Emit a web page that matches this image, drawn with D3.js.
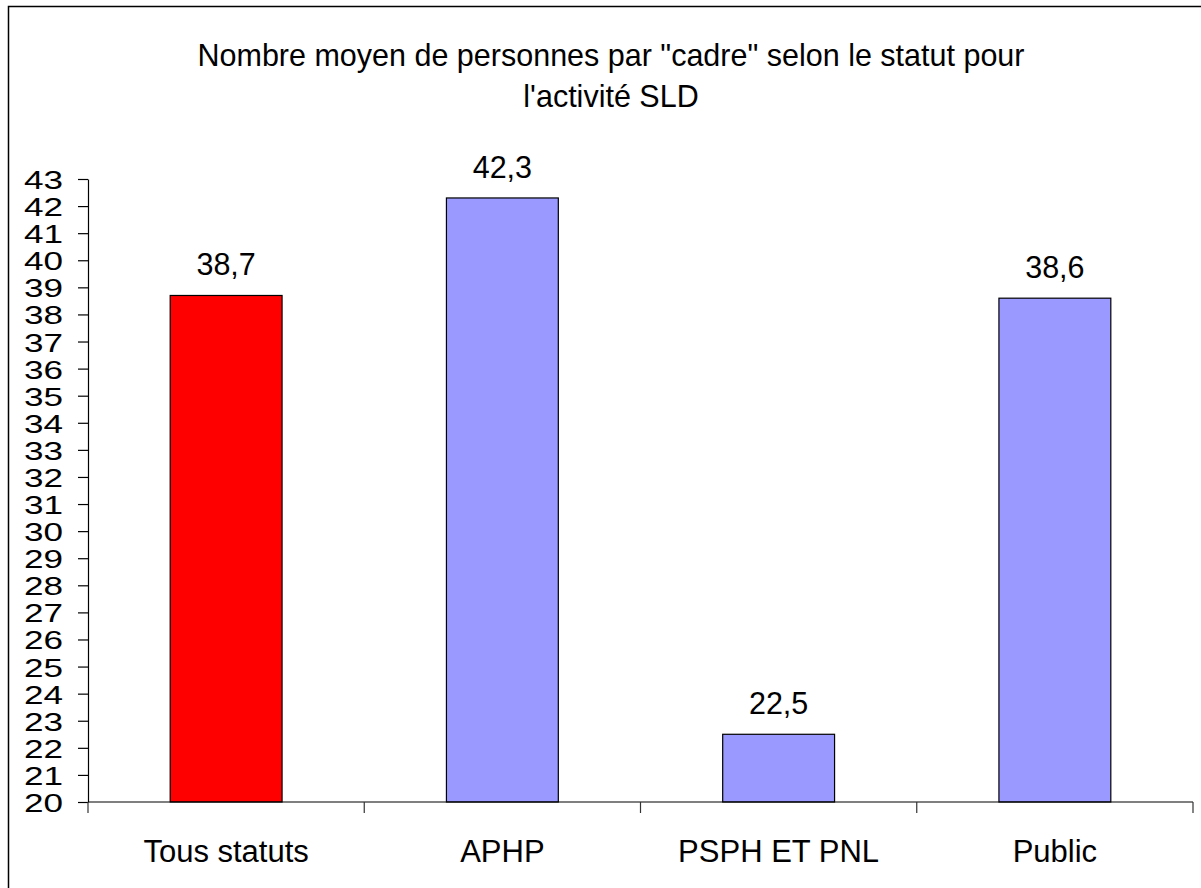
<!DOCTYPE html>
<html>
<head>
<meta charset="utf-8">
<script src="https://cdn.jsdelivr.net/npm/d3@7"></script>
<style>
  body { margin: 0; background: #fff; }
  text { font-family: "Liberation Sans", Arial, sans-serif; fill: #000; }
</style>
</head>
<body>
<div id="graphic"></div>
<script>
// data
const categories = ["Tous statuts", "APHP", "PSPH ET PNL", "Public"];
const values = [38.7, 42.3, 22.5, 38.6];
const valueLabels = ["38,7", "42,3", "22,5", "38,6"];
const barColors = ["#ff0000", "#9999ff", "#9999ff", "#9999ff"];
const yTicks = d3.range(20, 44);
const titleLines = ["Nombre moyen de personnes par \"cadre\" selon le statut pour", "l'activité SLD"];

const width = 1201, height = 888;
const margin = { left: 88, right: 8, top: 179, bottom: 86 };

const svg = d3.select("#graphic").append("svg")
  .attr("width", width)
  .attr("height", height);

// outer frame
svg.append("rect")
  .attr("x", 8.5).attr("y", 6.5)
  .attr("width", 1200).attr("height", 890)
  .attr("fill", "none").attr("stroke", "#000").attr("stroke-width", 1.5);

// title
svg.append("g").selectAll("text")
  .data(titleLines)
  .enter().append("text")
  .attr("x", 611)
  .attr("y", (d, i) => 66 + i * 41)
  .attr("text-anchor", "middle")
  .style("font-size", "30.5px")
  .text(d => d);

var x = d3.scaleBand()
  .domain(categories)
  .range([margin.left, 1193])
  .padding(0);

var y = d3.scaleLinear()
  .domain([20, 43])
  .range([802, margin.top]);

const barW = x.bandwidth() * 0.405;
const rows = categories.map((c, i) => ({ name: c, value: values[i], label: valueLabels[i], color: barColors[i] }));

// bars
svg.selectAll(".bar")
  .data(rows)
  .enter().append("rect")
  .attr("class", "bar")
  .attr("x", d => x(d.name) + (x.bandwidth() - barW) / 2)
  .attr("y", d => y(d.value))
  .attr("width", barW)
  .attr("height", d => y(20) - y(d.value))
  .attr("fill", d => d.color)
  .attr("stroke", "#000")
  .attr("stroke-width", 1.2);

// value labels
svg.selectAll(".vlabel")
  .data(rows)
  .enter().append("text")
  .attr("class", "vlabel")
  .attr("x", d => x(d.name) + x.bandwidth() / 2)
  .attr("y", d => y(d.value) - 20)
  .attr("text-anchor", "middle")
  .style("font-size", "30.5px")
  .text(d => d.label);

// y axis
var yAxis = svg.append("g")
  .attr("transform", "translate(" + margin.left + ",0)")
  .call(d3.axisLeft(y).tickValues(yTicks).tickSize(10).tickSizeOuter(0).tickFormat(d3.format("d")));
yAxis.select(".domain").attr("stroke", "#000").attr("stroke-width", 1.2);
yAxis.selectAll(".tick line").attr("stroke", "#000").attr("stroke-width", 1.2);
yAxis.selectAll(".tick text")
  .attr("x", null).attr("dy", null)
  .attr("transform", "translate(-25,9.5) scale(1.35,1)")
  .style("font-size", "26px")
  .attr("font-family", null);

// x axis: ticks on band boundaries
svg.append("line")
  .attr("x1", margin.left).attr("x2", 1193)
  .attr("y1", y(20)).attr("y2", y(20))
  .attr("stroke", "#000").attr("stroke-width", 1.2);

svg.selectAll(".xtick")
  .data(categories.concat(["end"]))
  .enter().append("line")
  .attr("class", "xtick")
  .attr("x1", (d, i) => i < categories.length ? x(d) : x.range()[1])
  .attr("x2", (d, i) => i < categories.length ? x(d) : x.range()[1])
  .attr("y1", y(20)).attr("y2", y(20) + 11)
  .attr("stroke", "#333").attr("stroke-width", 1.2);

svg.selectAll(".xlabel")
  .data(categories)
  .enter().append("text")
  .attr("class", "xlabel")
  .attr("x", d => x(d) + x.bandwidth() / 2)
  .attr("y", 862)
  .attr("text-anchor", "middle")
  .style("font-size", "31px")
  .text(d => d);
</script>
</body>
</html>
